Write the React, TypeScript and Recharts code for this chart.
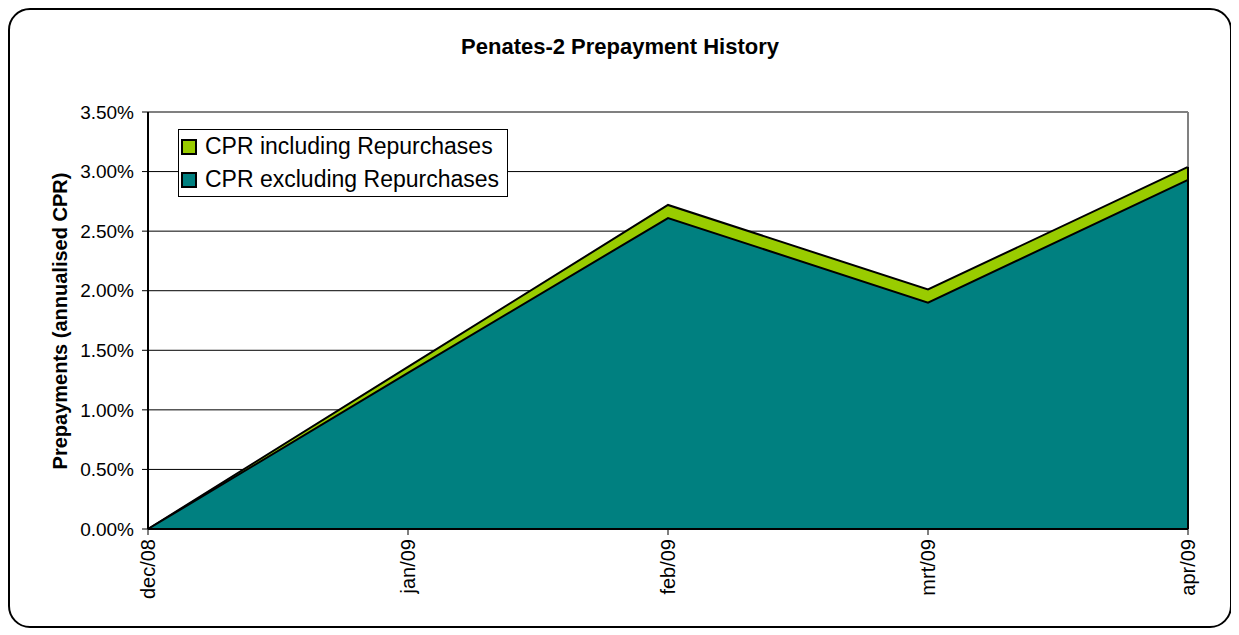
import React from 'react'
import { AreaChart, Area, XAxis, YAxis, CartesianGrid, Legend, ReferenceLine } from 'recharts'

const months = ['dec/08', 'jan/09', 'feb/09', 'mrt/09', 'apr/09']
const cprIncluding = [0, 1.36, 2.72, 2.01, 3.04]
const cprExcluding = [0, 1.31, 2.61, 1.9, 2.93]
const yTicks = [0, 0.5, 1, 1.5, 2, 2.5, 3, 3.5]
const yMax = 3.5

const GREEN = '#99CC00'
const TEAL = '#008080'
const FONT = 'Arial, "Liberation Sans", sans-serif'

const chartData = months.map((m, i) => ({
  month: m,
  incl: cprIncluding[i],
  excl: cprExcluding[i],
}))

const lastMonth = months[months.length - 1]
const lastIncl = cprIncluding[cprIncluding.length - 1]

function MonthTick(props: any) {
  const { x, y, payload } = props
  return (
    <text
      x={x}
      y={y}
      transform={`rotate(-90, ${x}, ${y})`}
      textAnchor="end"
      dy="0.35em"
      fontSize={20}
      fontFamily={FONT}
      fill="#000"
    >
      {payload.value}
    </text>
  )
}

function LegendBox() {
  const items = [
    { label: 'CPR including Repurchases', color: GREEN },
    { label: 'CPR excluding Repurchases', color: TEAL },
  ]
  return (
    <div
      style={{
        border: '1px solid #000',
        background: '#fff',
        padding: '0px 8px 0px 2px',
        fontFamily: FONT,
        fontSize: 23,
        lineHeight: '33px',
        whiteSpace: 'nowrap',
      }}
    >
      {items.map((it) => (
        <div key={it.label} style={{ display: 'flex', alignItems: 'center' }}>
          <span
            style={{
              width: 12,
              height: 12,
              background: it.color,
              border: '2px solid #000',
              marginRight: 8,
              display: 'inline-block',
            }}
          />
          {it.label}
        </div>
      ))}
    </div>
  )
}

export default function App() {
  return (
    <div
      style={{
        position: 'relative',
        width: 1224,
        height: 620,
        boxSizing: 'border-box',
        border: '2px solid #000',
        borderRadius: 22,
        background: '#fff',
        fontFamily: FONT,
      }}
    >
      <div
        style={{
          position: 'absolute',
          top: 24,
          left: 0,
          width: 1220,
          textAlign: 'center',
          fontWeight: 'bold',
          fontSize: 22,
        }}
      >
        Penates-2 Prepayment History
      </div>
      <div
        style={{
          position: 'absolute',
          left: 50,
          top: 311,
          transform: 'translate(-50%, -50%) rotate(-90deg)',
          whiteSpace: 'nowrap',
          fontWeight: 'bold',
          fontSize: 20,
        }}
      >
        Prepayments (annualised CPR)
      </div>
      <div style={{ position: 'absolute', left: -2, top: -2 }}>
        <AreaChart
          width={1224}
          height={620}
          data={chartData}
          margin={{ top: 104, right: 44, left: 60, bottom: 6 }}
        >
          <CartesianGrid vertical={false} stroke="#000" strokeWidth={1} />
          <XAxis
            dataKey="month"
            interval={0}
            height={93}
            tick={<MonthTick />}
            tickSize={6}
            tickMargin={4}
            tickLine={{ stroke: '#000' }}
            axisLine={{ stroke: '#000', strokeWidth: 2 }}
          />
          <YAxis
            domain={[0, yMax]}
            ticks={yTicks}
            width={80}
            tickFormatter={(v: number) => `${v.toFixed(2)}%`}
            tick={{ fontSize: 19, fill: '#000', fontFamily: FONT }}
            tickSize={6}
            tickMargin={8}
            tickLine={{ stroke: '#000' }}
            axisLine={{ stroke: '#000', strokeWidth: 2 }}
          />
          <ReferenceLine y={yMax} stroke="#808080" strokeWidth={2} />
          <ReferenceLine
            segment={[
              { x: lastMonth, y: lastIncl },
              { x: lastMonth, y: yMax },
            ]}
            stroke="#808080"
            strokeWidth={2}
          />
          <ReferenceLine
            segment={[
              { x: lastMonth, y: 0 },
              { x: lastMonth, y: lastIncl },
            ]}
            stroke="#000"
            strokeWidth={2}
          />
          <Legend
            layout="vertical"
            align="center"
            verticalAlign="middle"
            content={<LegendBox />}
            wrapperStyle={{ top: 121, left: 170, width: 'auto', height: 'auto' }}
          />
          <Area
            type="linear"
            dataKey="incl"
            fill={GREEN}
            fillOpacity={1}
            stroke="#000"
            strokeWidth={2}
            isAnimationActive={false}
          />
          <Area
            type="linear"
            dataKey="excl"
            fill={TEAL}
            fillOpacity={1}
            stroke="#000"
            strokeWidth={2}
            isAnimationActive={false}
          />
        </AreaChart>
      </div>
    </div>
  )
}
